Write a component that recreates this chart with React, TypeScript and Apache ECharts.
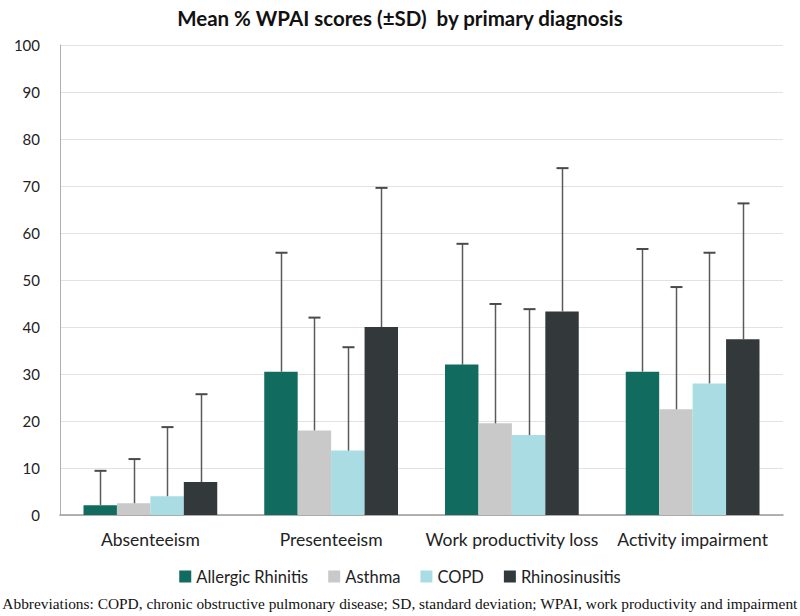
import React, { useEffect, useRef } from "react";
import * as echarts from "echarts";

const categories = ["Absenteeism", "Presenteeism", "Work productivity loss", "Activity impairment"];
const seriesNames = ["Allergic Rhinitis", "Asthma", "COPD", "Rhinosinusitis"];
const allergicRhinitis = [2.1, 30.5, 32.0, 30.5];
const asthma = [2.5, 18.0, 19.5, 22.5];
const copd = [4.0, 13.7, 17.0, 28.0];
const rhinosinusitis = [7.0, 40.0, 43.3, 37.4];
// mean + SD (upper whisker ends)
const allergicRhinitisUpper = [9.4, 55.8, 57.7, 56.6];
const asthmaUpper = [11.9, 42.0, 44.9, 48.5];
const copdUpper = [18.7, 35.7, 43.8, 55.8];
const rhinosinusitisUpper = [25.7, 69.6, 73.8, 66.3];
const colors = ["#126B5F", "#C9C9C9", "#A9DDE3", "#33383B"];

const title = "Mean % WPAI scores (±SD)  by primary diagnosis";
const footnote =
  "Abbreviations: COPD, chronic obstructive pulmonary disease; SD, standard deviation; WPAI, work productivity and impairment";

const CAT_GAP = 0.26;

export default function App() {
  const ref = useRef<HTMLDivElement>(null);
  useEffect(() => {
    if (!ref.current) return;
    const chart = echarts.init(ref.current, undefined, { renderer: "svg" });
    const means = [allergicRhinitis, asthma, copd, rhinosinusitis];
    const uppers = [allergicRhinitisUpper, asthmaUpper, copdUpper, rhinosinusitisUpper];
    const errData: number[][] = [];
    means.forEach((m, s) => {
      m.forEach((v, c) => errData.push([c, v, uppers[s][c], s]));
    });
    const font = "Lato, 'Open Sans', sans-serif";
    chart.setOption({
      animation: false,
      title: {
        text: title,
        left: "center",
        top: 2,
        textStyle: { fontFamily: font, fontSize: 20.5, fontWeight: "bold", color: "#111" },
      },
      legend: {
        data: seriesNames,
        bottom: 26,
        left: "center",
        icon: "rect",
        itemWidth: 12,
        itemHeight: 12,
        itemGap: 20,
        textStyle: { fontFamily: font, fontSize: 16.5, color: "#222" },
      },
      grid: { left: 60, right: 17, top: 45, bottom: 101, containLabel: false },
      xAxis: {
        type: "category",
        data: categories,
        axisTick: { show: false },
        axisLine: { lineStyle: { color: "#9a9a9a", width: 1.5 } },
        axisLabel: { fontFamily: font, fontSize: 17.5, color: "#222", margin: 15, interval: 0 },
      },
      yAxis: {
        type: "value",
        min: 0,
        max: 100,
        interval: 10,
        axisLine: { show: true, lineStyle: { color: "#b0b0b0" } },
        axisTick: { show: false },
        splitLine: { lineStyle: { color: "#e2e2e2" } },
        axisLabel: { fontFamily: font, fontSize: 15, color: "#222", margin: 20 },
      },
      series: [
        ...seriesNames.map((name, i) => ({
          name,
          type: "bar",
          data: means[i],
          barGap: "0%",
          barCategoryGap: CAT_GAP * 100 + "%",
          itemStyle: { color: colors[i] },
        })),
        {
          type: "custom",
          name: "err",
          data: errData,
          z: 10,
          encode: { x: 0, y: [1, 2] },
          renderItem: (params: any, api: any) => {
            const c = api.value(0);
            const lo = api.value(1);
            const hi = api.value(2);
            const s = api.value(3);
            const band = api.size([1, 0])[0];
            const gw = band * (1 - CAT_GAP);
            const bw = gw / 4;
            const p0 = api.coord([c, lo]);
            const p1 = api.coord([c, hi]);
            const x = Math.round(p0[0] - gw / 2 + bw * (s + 0.5)) + 0.5;
            const style = { stroke: "#5a5a5a", lineWidth: 1.5 };
            return {
              type: "group",
              children: [
                { type: "line", shape: { x1: x, y1: p0[1], x2: x, y2: p1[1] }, style },
                { type: "line", shape: { x1: x - 6, y1: p1[1], x2: x + 6, y2: p1[1] }, style: { stroke: "#4a4a4a", lineWidth: 2 } },
              ],
            };
          },
        },
      ],
      graphic: [
        {
          type: "text",
          left: "center",
          top: 596,
          style: {
            text: footnote,
            fontFamily: "'Liberation Serif', 'Times New Roman', serif",
            fontSize: 15.4,
            fill: "#111",
          },
        },
      ],
    });
    return () => chart.dispose();
  }, []);
  return <div ref={ref} style={{ width: 800, height: 616, position: "absolute", left: 0, top: 0, background: "#fff" }} />;
}
